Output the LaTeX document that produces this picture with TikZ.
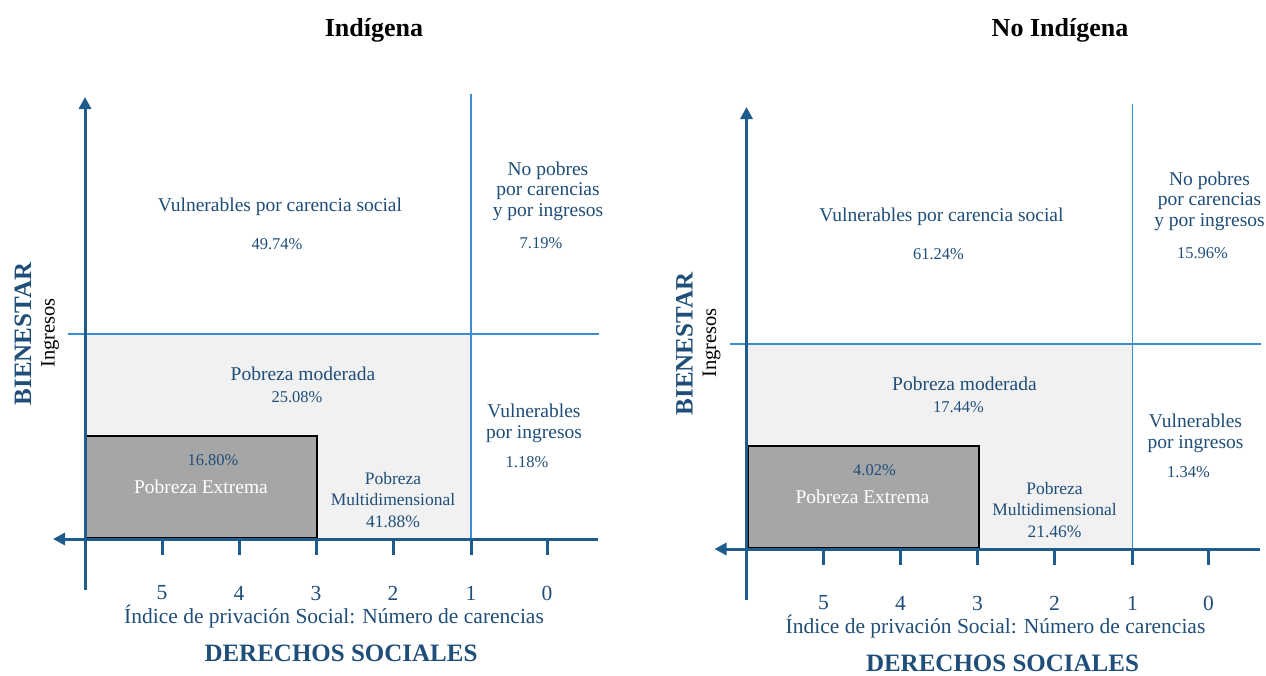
\documentclass[tikz,border=0pt]{standalone}
\usepackage{fontspec}
\setmainfont{Liberation Serif}
\usetikzlibrary{arrows.meta}
\definecolor{axisblue}{HTML}{1F5C8E}
\definecolor{lineblue}{HTML}{3C8DD2}
\definecolor{txtblue}{HTML}{1F4E79}
\definecolor{lightfill}{HTML}{F1F1F1}
\definecolor{darkfill}{HTML}{A6A6A6}
\newcommand\setfs[2]{\fontsize{#1}{#2}\selectfont}
\tikzset{
  axisline/.style={draw=axisblue, line width=3pt},
  axisarrow/.style={axisline, -{Triangle[length=12pt,width=12pt]}},
  thinline/.style={draw=lineblue, line width=1.5pt},
  tickline/.style={draw=axisblue, line width=3pt},
  lbl/.style={text=txtblue, font=\setfs{19.5}{21}, align=center, inner sep=0pt},
  pct/.style={text=txtblue, font=\setfs{16.5}{18}, inner sep=0pt},
  multi/.style={text=txtblue, font=\setfs{17.5}{21.5}, align=center, inner sep=0pt},
  ticklbl/.style={text=txtblue, font=\setfs{21.5}{23}, inner sep=0pt},
  axtitle/.style={text=txtblue, font=\bfseries\setfs{25}{27}, inner sep=0pt},
  sublbl/.style={text=txtblue, font=\setfs{21.5}{23}, inner sep=0pt},
  ingr/.style={text=black, font=\setfs{20.5}{22}, inner sep=0pt, rotate=90},
  head/.style={text=black, font=\bfseries\setfs{26}{28}, inner sep=0pt},
  extbox/.style={rectangle, draw=black, line width=2pt, fill=darkfill, inner sep=0pt},
}
% #1 vuln carencia, #2 no pobres, #3 moderada, #4 vuln ingresos, #5 extrema, #6 multidimensional
\newcommand\quadchart[6]{%
  \fill[lightfill] (85,334) rectangle (471,539);
  \coordinate (hl) at (68,334);
  \coordinate (hr) at (599,334);
  \coordinate (vt) at (471,94);
  \coordinate (vb) at (471,539);
  \draw[thinline] (hl) -- (hr);
  \draw[thinline] (vt) -- (vb);
  \node[extbox, minimum width=231pt, minimum height=102pt, anchor=south west] (ext) at (85,539) {};
  \coordinate (ytop) at (85,97);
  \coordinate (ybot) at (85,590);
  \coordinate (xleft) at (53,539);
  \coordinate (xright) at (598,539);
  \draw[axisarrow] (ybot) -- (ytop);
  \draw[axisarrow] (xright) -- (xleft);
  \foreach \x/\l in {162/5,239/4,316/3,393/2,471/1,547/0}{
    \coordinate (t\l) at (\x,539);
    \coordinate (tb\l) at (\x,555);
    \draw[tickline] (t\l) -- (tb\l);
    \node[ticklbl] (n\l) at (\x,593) {\l};
  }
  \node[lbl] (vc) at (280,207) {Vulnerables por carencia social};
  \node[pct] (vcp) at (277,244) {#1};
  \node[lbl, font=\setfs{19.5}{20.5}] (np) at (548,191) {No pobres\\ por carencias\\y por ingresos};
  \node[pct] (npp) at (541,243) {#2};
  \node[lbl] (pm) at (303,374) {Pobreza moderada};
  \node[pct] (pmp) at (297,397) {#3};
  \node[lbl] (vi) at (534,423) {Vulnerables\\por ingresos};
  \node[pct] (vip) at (527,462) {#4};
  \node[pct] (pep) at (213,460) {#5};
  \node[lbl, text=white] (pe) at (201,487) {Pobreza Extrema};
  \node[multi] (pmd) at (393,500) {Pobreza\\Multidimensional\\#6};
  \node[sublbl] (idx) at (334,617) {Índice de privación Social: Número de carencias};
  \node[axtitle] (ds) at (341,653) {DERECHOS SOCIALES};
  \node[axtitle, rotate=90] (bien) at (23,334) {BIENESTAR};
  \node[ingr] (ing) at (50,333) {Ingresos};
}
\begin{document}
\begin{tikzpicture}[x=1pt, y=-1pt]
  \useasboundingbox (0,0) rectangle (1266,675);
  \fill[white] (0,0) rectangle (1266,675);
  \node[head] (h1) at (374,30) {Indígena};
  \node[head] (h2) at (1060,30) {No Indígena};
  \begin{scope}[name prefix=L-]
    \quadchart{49.74\%}{7.19\%}{25.08\%}{1.18\%}{16.80\%}{41.88\%}
  \end{scope}
  \begin{scope}[name prefix=R-, shift={(661.5,10)}]
    \quadchart{61.24\%}{15.96\%}{17.44\%}{1.34\%}{4.02\%}{21.46\%}
  \end{scope}
\end{tikzpicture}
\end{document}
